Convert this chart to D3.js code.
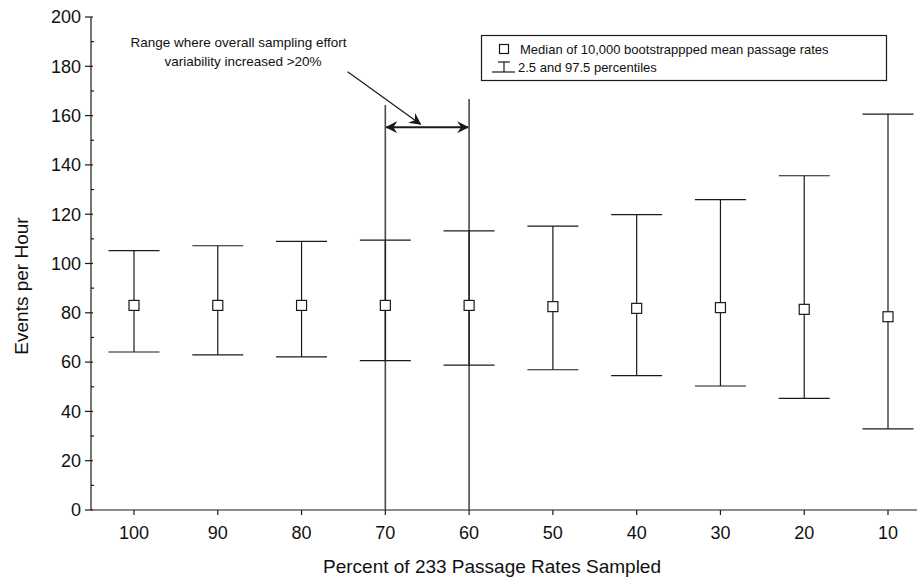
<!DOCTYPE html>
<html>
<head>
<meta charset="utf-8">
<script src="https://cdn.jsdelivr.net/npm/d3@7"></script>
<style>
  body { margin: 0; background: #fff; }
  svg { font-family: "Liberation Sans", Arial, sans-serif; }
</style>
</head>
<body>
<svg id="chart" width="917" height="580"></svg>
<script>
// ---- data ----
const percents = [100, 90, 80, 70, 60, 50, 40, 30, 20, 10];
const medians  = [83.0, 83.0, 83.0, 83.0, 83.0, 82.5, 81.8, 82.1, 81.4, 78.4];
const lower    = [64.1, 62.9, 62.1, 60.6, 58.8, 56.9, 54.5, 50.3, 45.3, 32.9];
const upper    = [105.2, 107.2, 109.0, 109.5, 113.2, 115.2, 119.8, 125.9, 135.6, 160.6];
const yTicks   = [0, 20, 40, 60, 80, 100, 120, 140, 160, 180, 200];
const yMinorTicks = [10, 30, 50, 70, 90, 110, 130, 150, 170, 190];
const rangeMarks = [70, 60];          // vertical reference lines
const rangeTops  = [164.3, 166.7];
const rangeArrowY = 155.3;
const pointerFrom = [74.5, 177.8];
const pointerTo   = [65.8, 156.5];
const annotationLines = ["Range where overall sampling effort", "variability increased >20%"];
const legendItems = ["Median of 10,000 bootstrappped mean passage rates", "2.5 and 97.5 percentiles"];

// ---- layout ----
const svg = d3.select("#chart");
const x = d3.scaleLinear().domain([100, 10]).range([134, 888]);
const y = d3.scaleLinear().domain([0, 200]).range([510, 17]);
const axisLeftX = 91;
const ink = "#1a1a1a";

// defs for arrowheads
const defs = svg.append("defs");
function head(id, orient) {
  defs.append("marker")
    .attr("id", id).attr("viewBox", "0 0 12 12")
    .attr("refX", 11).attr("refY", 6)
    .attr("markerWidth", 12).attr("markerHeight", 12)
    .attr("markerUnits", "userSpaceOnUse")
    .attr("orient", orient)
    .append("path")
    .attr("d", "M0,0 L12,6 L0,12 L4,6 Z")
    .attr("fill", ink);
}
head("arrowEnd", "auto");
head("arrowStart", "auto-start-reverse");

// ---- y axis ----
const gy = svg.append("g").attr("transform", `translate(${axisLeftX},0)`);
gy.append("line").attr("x1", 0).attr("x2", 0).attr("y1", y(200)).attr("y2", y(0))
  .attr("stroke", ink).attr("stroke-width", 1.2);
gy.selectAll(".maj").data(yTicks).join("line")
  .attr("x1", -6).attr("x2", 2).attr("y1", d => y(d)).attr("y2", d => y(d))
  .attr("stroke", ink).attr("stroke-width", 1.2);
gy.selectAll(".min").data(yMinorTicks).join("line")
  .attr("x1", 0).attr("x2", 3).attr("y1", d => y(d)).attr("y2", d => y(d))
  .attr("stroke", ink).attr("stroke-width", 1.2);
gy.selectAll("text").data(yTicks).join("text")
  .attr("x", -10).attr("y", d => y(d)).attr("dy", "0.35em")
  .attr("text-anchor", "end").attr("font-size", 18).attr("fill", "#111")
  .text(d => d);

// ---- x axis ----
const gx = svg.append("g").attr("transform", `translate(0,${y(0)})`);
gx.append("line").attr("x1", axisLeftX).attr("x2", 917).attr("y1", 0).attr("y2", 0)
  .attr("stroke", ink).attr("stroke-width", 1.2);
gx.selectAll(".tk").data(percents).join("line")
  .attr("x1", d => x(d)).attr("x2", d => x(d)).attr("y1", 0).attr("y2", 5)
  .attr("stroke", ink).attr("stroke-width", 1.2);
gx.selectAll("text").data(percents).join("text")
  .attr("x", d => x(d)).attr("y", 23).attr("dy", "0.35em")
  .attr("text-anchor", "middle").attr("font-size", 18).attr("fill", "#111")
  .text(d => d);

// axis titles
svg.append("text").attr("x", 492).attr("y", 566).attr("dy", "0.35em")
  .attr("text-anchor", "middle").attr("font-size", 19).attr("fill", "#111")
  .text("Percent of 233 Passage Rates Sampled");
svg.append("text").attr("transform", "translate(21,286) rotate(-90)").attr("dy", "0.35em")
  .attr("text-anchor", "middle").attr("font-size", 19).attr("fill", "#111")
  .text("Events per Hour");

// ---- reference vertical lines ----
svg.selectAll(".vref").data(rangeMarks).join("line")
  .attr("x1", d => x(d)).attr("x2", d => x(d))
  .attr("y1", (d, i) => y(rangeTops[i])).attr("y2", y(0))
  .attr("stroke", "#4a4a4a").attr("stroke-width", 1.6);

// ---- error bars ----
const capHalf = 25.5;
const data = percents.map((p, i) => ({ p, m: medians[i], lo: lower[i], hi: upper[i] }));
const eb = svg.append("g");
eb.selectAll(".stem").data(data).join("line")
  .attr("x1", d => x(d.p)).attr("x2", d => x(d.p))
  .attr("y1", d => y(d.hi)).attr("y2", d => y(d.lo))
  .attr("stroke", ink).attr("stroke-width", 1.2);
eb.selectAll(".capHi").data(data).join("line")
  .attr("x1", d => x(d.p) - capHalf).attr("x2", d => x(d.p) + capHalf)
  .attr("y1", d => y(d.hi)).attr("y2", d => y(d.hi))
  .attr("stroke", ink).attr("stroke-width", 1.2);
eb.selectAll(".capLo").data(data).join("line")
  .attr("x1", d => x(d.p) - capHalf).attr("x2", d => x(d.p) + capHalf)
  .attr("y1", d => y(d.lo)).attr("y2", d => y(d.lo))
  .attr("stroke", ink).attr("stroke-width", 1.2);
eb.selectAll("rect").data(data).join("rect")
  .attr("x", d => x(d.p) - 5).attr("y", d => y(d.m) - 5)
  .attr("width", 10).attr("height", 10)
  .attr("fill", "#fff").attr("stroke", ink).attr("stroke-width", 1.2);

// ---- range arrow ----
svg.append("line")
  .attr("x1", x(rangeMarks[0]) + 1).attr("x2", x(rangeMarks[1]) - 1)
  .attr("y1", y(rangeArrowY)).attr("y2", y(rangeArrowY))
  .attr("stroke", ink).attr("stroke-width", 2)
  .attr("marker-start", "url(#arrowStart)").attr("marker-end", "url(#arrowEnd)");

// pointer arrow
svg.append("line")
  .attr("x1", x(pointerFrom[0])).attr("y1", y(pointerFrom[1]))
  .attr("x2", x(pointerTo[0])).attr("y2", y(pointerTo[1]))
  .attr("stroke", ink).attr("stroke-width", 1.2)
  .attr("marker-end", "url(#arrowEnd)");

// annotation text
svg.append("g").selectAll("text").data(annotationLines).join("text")
  .attr("x", (d, i) => i === 0 ? 238.5 : 243)
  .attr("y", (d, i) => 42 + i * 19).attr("dy", "0.35em")
  .attr("text-anchor", "middle").attr("font-size", 13.5).attr("fill", "#111")
  .text(d => d);

// ---- legend ----
const lg = svg.append("g");
lg.append("rect").attr("x", 481.5).attr("y", 35.5).attr("width", 405).attr("height", 45)
  .attr("fill", "#fff").attr("stroke", ink).attr("stroke-width", 1.2);
lg.append("rect").attr("x", 499.5).attr("y", 44.5).attr("width", 9).attr("height", 9)
  .attr("fill", "#fff").attr("stroke", ink).attr("stroke-width", 1.2);
lg.append("line").attr("x1", 492).attr("x2", 515).attr("y1", 72).attr("y2", 72)
  .attr("stroke", ink).attr("stroke-width", 1.2);
lg.append("line").attr("x1", 504).attr("x2", 504).attr("y1", 62).attr("y2", 72)
  .attr("stroke", ink).attr("stroke-width", 1.2);
lg.append("line").attr("x1", 498).attr("x2", 510).attr("y1", 62).attr("y2", 62)
  .attr("stroke", ink).attr("stroke-width", 1.2);
lg.selectAll("text").data(legendItems).join("text")
  .attr("x", (d, i) => i === 0 ? 520 : 518)
  .attr("y", (d, i) => 49 + i * 18).attr("dy", "0.35em")
  .attr("font-size", 13).attr("fill", "#111")
  .text(d => d);
</script>
</body>
</html>
